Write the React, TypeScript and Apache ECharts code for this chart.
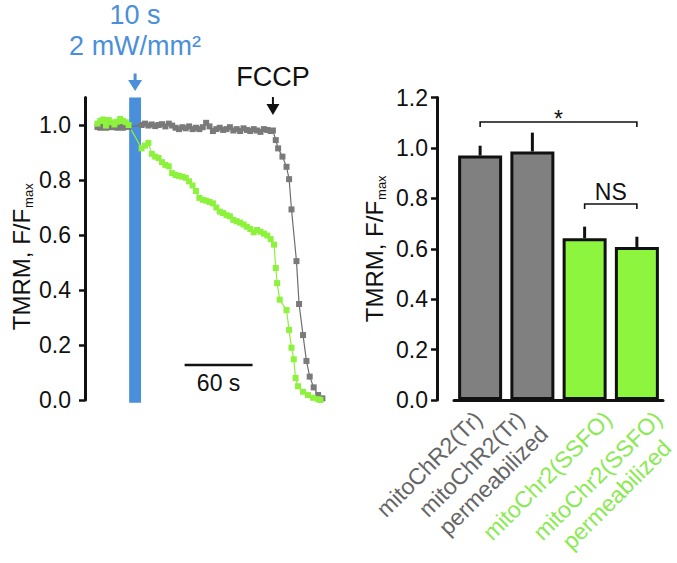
import React, { useEffect, useRef } from "react";
import * as echarts from "echarts";

const FONT = "'Liberation Sans', Arial, Helvetica, sans-serif";

// ---------- Left panel: TMRM time course (t in s, F/Fmax) ----------
const grayTrace: [number, number][] = [
  [11, 0.993], [13.5, 0.99], [16, 0.995], [18.5, 0.99], [21, 0.994], [23.5, 0.992],
  [26, 0.996], [28.5, 0.99], [31, 0.994], [33.5, 0.99], [36, 0.995], [38.5, 0.993],
  [50, 1.0], [53, 1.005], [56, 0.998], [59, 1.002], [62, 0.996], [65, 1.0],
  [68, 1.003], [71, 0.995], [74, 1.005], [77, 0.998], [80, 0.99], [83, 0.985],
  [86, 0.992], [89, 0.988], [92, 0.995], [95, 0.985], [98, 0.99], [101, 0.985],
  [104, 0.992], [107, 1.008], [110, 0.995], [113, 0.978], [116, 0.985], [119, 0.99],
  [122, 0.982], [125, 0.985], [128, 0.992], [131, 0.98], [134, 0.985], [137, 0.978],
  [140, 0.988], [143, 0.982], [146, 0.978], [149, 0.985], [152, 0.98], [155, 0.975],
  [158, 0.985], [161, 0.982], [164, 0.978], [166, 0.98],
  [168.5, 0.945], [170.6, 0.915], [174.4, 0.885], [178, 0.848], [180.3, 0.803],
  [182.4, 0.693], [186.8, 0.505], [189.1, 0.349], [192.6, 0.236], [195.6, 0.142],
  [198.5, 0.085], [202, 0.046], [205.9, 0.018], [209.7, 0.006],
];

const greenTrace: [number, number][] = [
  [11, 1.005], [13.5, 1.015], [16, 1.02], [18.5, 0.998], [21, 1.018], [23.5, 1.01],
  [26, 1.002], [28.5, 1.012], [31, 1.022], [33.5, 1.015], [36, 1.01], [38.5, 1.0],
  [50, 0.915], [53, 0.925], [56, 0.935], [59, 0.895], [62, 0.885], [65, 0.88],
  [68, 0.865], [71, 0.855], [74, 0.85], [77, 0.825], [80, 0.818], [83, 0.815],
  [86, 0.812], [89, 0.808], [92, 0.795], [95, 0.78], [98, 0.76], [101, 0.735],
  [104, 0.728], [107, 0.725], [110, 0.72], [113, 0.715], [116, 0.7], [119, 0.685],
  [122, 0.68], [125, 0.672], [128, 0.668], [131, 0.655], [134, 0.65], [137, 0.645],
  [140, 0.638], [143, 0.63], [146, 0.622], [149, 0.61], [152, 0.618], [155, 0.612],
  [158, 0.605], [161, 0.598], [164, 0.585], [167, 0.565],
  [168.5, 0.48], [169.7, 0.425], [172, 0.365], [178, 0.327], [180.3, 0.255],
  [182.4, 0.19], [184.4, 0.148], [186, 0.08], [188.2, 0.05], [192.6, 0.03],
  [197, 0.018], [201.5, 0.008], [206, 0.003], [208, 0.0],
];

const lightPulse: [number, number] = [39, 49.5]; // s, 10 s light pulse
const fccpTime = 166; // s
const scaleBar: [number, number] = [88, 148]; // 60 s
const scaleBarLevel = 0.127;
const leftTicks = [0, 0.2, 0.4, 0.6, 0.8, 1.0];
const timeMax = 212;

// ---------- Right panel: summary bars ----------
const categories = [
  "mitoChR2(Tr)",
  "mitoChR2(Tr)\npermeabilized",
  "mitoChr2(SSFO)",
  "mitoChr2(SSFO)\npermeabilized",
];
const barMeans = [0.97, 0.986, 0.642, 0.607];
const barErrors = [0.039, 0.075, 0.046, 0.041];
const significance = [
  { from: 0, to: 3, level: 1.103, label: "*" },
  { from: 2, to: 3, level: 0.778, label: "NS" },
];

const GRAY = "#808080";
const GREEN = "#8ef53e";
const BLUE = "#4a8fd9";
const barColors = [GRAY, GRAY, GREEN, GREEN];
const labelColors = ["#666666", "#666666", "#8aea52", "#8aea52"];
const labelDx = [-10, -20, 15, 13];
const line2Shift = [0, 6, 0, -14];
const sigTextDy: Record<string, number> = { "*": -3, NS: -12 };

const titleRich = {
  m: { fontSize: 24, fontFamily: FONT, color: "#111", verticalAlign: "top", lineHeight: 26 },
  s: { fontSize: 13, fontFamily: FONT, color: "#111", verticalAlign: "bottom", lineHeight: 13, padding: [15, 0, 0, 1] },
};

export default function App() {
  const ref = useRef<HTMLDivElement>(null);

  useEffect(() => {
    if (!ref.current) return;
    const chart = echarts.init(ref.current, undefined, { renderer: "svg" });
    const C = Math.SQRT1_2;

    const option: any = {
      animation: false,
      grid: [
        { left: 85, top: 97.5, width: 240, height: 302.5 },
        { left: 454, top: 97.6, width: 209, height: 302.4 },
      ],
      xAxis: [
        { type: "value", gridIndex: 0, min: 0, max: timeMax, show: false },
        {
          type: "category",
          gridIndex: 1,
          data: categories,
          axisLine: { show: true, lineStyle: { color: "#111", width: 3 } },
          axisTick: { show: false },
          axisLabel: { show: false },
        },
      ],
      yAxis: [
        {
          type: "value",
          gridIndex: 0,
          min: 0,
          max: 1.1,
          interval: 0.2,
          splitLine: { show: false },
          axisLine: { show: true, lineStyle: { color: "#111", width: 3 } },
          axisTick: { show: true, length: 6, lineStyle: { width: 2.5, color: "#111" }, customValues: leftTicks },
          axisLabel: {
            margin: 14,
            fontSize: 23,
            fontFamily: FONT,
            color: "#111",
            customValues: leftTicks,
            formatter: (v: number) => v.toFixed(1),
          },
          name: "{m|TMRM, F/F}{s|max}",
          nameLocation: "middle",
          nameRotate: 90,
          nameGap: 44,
          nameTextStyle: { rich: titleRich, padding: [0, 16, 0, 0] },
        },
        {
          type: "value",
          gridIndex: 1,
          min: 0,
          max: 1.2,
          interval: 0.2,
          offset: 17,
          splitLine: { show: false },
          axisLine: { show: true, lineStyle: { color: "#111", width: 3 } },
          axisTick: { show: true, length: 6, lineStyle: { width: 2.5, color: "#111" } },
          axisLabel: {
            margin: 9,
            fontSize: 23,
            fontFamily: FONT,
            color: "#111",
            formatter: (v: number) => v.toFixed(1),
          },
          name: "{m|TMRM, F/F}{s|max}",
          nameLocation: "middle",
          nameRotate: 90,
          nameGap: 49,
          nameTextStyle: { rich: titleRich },
        },
      ],
      series: [
        {
          type: "line",
          xAxisIndex: 0,
          yAxisIndex: 0,
          data: grayTrace,
          symbol: "rect",
          symbolSize: 6,
          showAllSymbol: true,
          lineStyle: { color: "#6e6e6e", width: 1.2 },
          itemStyle: { color: "#7a7a7a" },
        },
        {
          type: "line",
          xAxisIndex: 0,
          yAxisIndex: 0,
          data: greenTrace,
          symbol: "rect",
          symbolSize: 6,
          showAllSymbol: true,
          lineStyle: { color: "#8cf03c", width: 1.2 },
          itemStyle: { color: "#8cf23c" },
        },
        {
          // light pulse
          type: "custom",
          xAxisIndex: 0,
          yAxisIndex: 0,
          data: [[lightPulse[0], lightPulse[1]]],
          renderItem: (params: any, api: any) => {
            const p0 = api.coord([api.value(0), 1.1]);
            const p1 = api.coord([api.value(1), -0.01]);
            return {
              type: "rect",
              shape: { x: p0[0], y: p0[1], width: p1[0] - p0[0], height: p1[1] - p0[1] },
              style: { fill: BLUE },
            };
          },
        },
        {
          // annotations of the left panel
          type: "custom",
          xAxisIndex: 0,
          yAxisIndex: 0,
          clip: false,
          data: [[fccpTime, 1.1]],
          renderItem: (params: any, api: any) => {
            const pc = (lightPulse[0] + lightPulse[1]) / 2;
            const [bx, top] = api.coord([pc, 1.1]);
            const [fx] = api.coord([fccpTime, 1.1]);
            const s0 = api.coord([scaleBar[0], scaleBarLevel]);
            const s1 = api.coord([scaleBar[1], scaleBarLevel]);
            return {
              type: "group",
              children: [
                { type: "text", x: bx, y: top - 83, style: { text: "10 s", fill: BLUE, font: `27px ${FONT}`, align: "center", verticalAlign: "middle" } },
                { type: "text", x: bx, y: top - 52, style: { text: "2 mW/mm²", fill: BLUE, font: `27px ${FONT}`, align: "center", verticalAlign: "middle" } },
                { type: "line", shape: { x1: bx, y1: top - 24, x2: bx, y2: top - 15 }, style: { stroke: BLUE, lineWidth: 3 } },
                { type: "polygon", shape: { points: [[bx - 7, top - 17.5], [bx + 7, top - 17.5], [bx, top - 6.5]] }, style: { fill: BLUE } },
                { type: "text", x: fx, y: top - 20.5, style: { text: "FCCP", fill: "#111", font: `27px ${FONT}`, align: "center", verticalAlign: "middle" } },
                { type: "line", shape: { x1: fx, y1: top - 0.5, x2: fx, y2: top + 8 }, style: { stroke: "#111", lineWidth: 2 } },
                { type: "polygon", shape: { points: [[fx - 6.5, top + 6.5], [fx + 6.5, top + 6.5], [fx, top + 17.5]] }, style: { fill: "#111" } },
                { type: "line", shape: { x1: s0[0], y1: s0[1], x2: s1[0], y2: s1[1] }, style: { stroke: "#111", lineWidth: 2.5 } },
                { type: "text", x: (s0[0] + s1[0]) / 2, y: s0[1] + 18, style: { text: "60 s", fill: "#111", font: `23px ${FONT}`, align: "center", verticalAlign: "middle" } },
              ],
            };
          },
        },
        {
          type: "bar",
          xAxisIndex: 1,
          yAxisIndex: 1,
          barWidth: 44,
          data: barMeans.map((v, i) => ({
            value: v,
            itemStyle: { color: barColors[i], borderColor: "#111", borderWidth: 3 },
          })),
        },
        {
          // error bars (upper)
          type: "custom",
          xAxisIndex: 1,
          yAxisIndex: 1,
          data: barMeans.map((v, i) => [i, v, v + barErrors[i]]),
          renderItem: (params: any, api: any) => {
            const a = api.coord([api.value(0), api.value(1)]);
            const b = api.coord([api.value(0), api.value(2)]);
            return { type: "line", shape: { x1: a[0], y1: a[1], x2: b[0], y2: b[1] }, style: { stroke: "#111", lineWidth: 3 } };
          },
          z: 3,
        },
        {
          // significance brackets
          type: "custom",
          xAxisIndex: 1,
          yAxisIndex: 1,
          clip: false,
          data: significance.map((s) => [s.from, s.to, s.level]),
          renderItem: (params: any, api: any) => {
            const s = significance[params.dataIndex];
            const p0 = api.coord([s.from, s.level]);
            const p1 = api.coord([s.to, s.level]);
            return {
              type: "group",
              children: [
                {
                  type: "polyline",
                  shape: { points: [[p0[0], p0[1] + 5], [p0[0], p0[1]], [p1[0], p1[1]], [p1[0], p1[1] + 5]] },
                  style: { stroke: "#111", lineWidth: 1.6, fill: "none" },
                },
                {
                  type: "text",
                  x: (p0[0] + p1[0]) / 2,
                  y: p0[1] + sigTextDy[s.label],
                  style: { text: s.label, fill: "#111", font: `23px ${FONT}`, align: "center", verticalAlign: "middle" },
                },
              ],
            };
          },
        },
        {
          // rotated category labels
          type: "custom",
          xAxisIndex: 1,
          yAxisIndex: 1,
          clip: false,
          data: categories.map((c, i) => [i, 0]),
          renderItem: (params: any, api: any) => {
            const i = params.dataIndex;
            const p = api.coord([i, 0]);
            const lines = categories[i].split("\n");
            const LH = 27;
            const x0 = p[0] + labelDx[i];
            const y0 = p[1] + 7;
            return {
              type: "group",
              children: lines.map((ln, j) => {
                const along = j === 0 ? 0 : line2Shift[i];
                return {
                  type: "text",
                  x: x0 + (j * LH + along) * C,
                  y: y0 + (j * LH - along) * C,
                  rotation: Math.PI / 4,
                  style: {
                    text: ln,
                    fill: labelColors[i],
                    font: `23px ${FONT}`,
                    align: "right",
                    verticalAlign: "top",
                    lineHeight: 23,
                  },
                };
              }),
            };
          },
        },
      ],
    };

    chart.setOption(option);
    return () => chart.dispose();
  }, []);

  return (
    <div
      ref={ref}
      style={{ position: "fixed", left: 0, top: 0, width: 677, height: 563, background: "#fff" }}
    />
  );
}
